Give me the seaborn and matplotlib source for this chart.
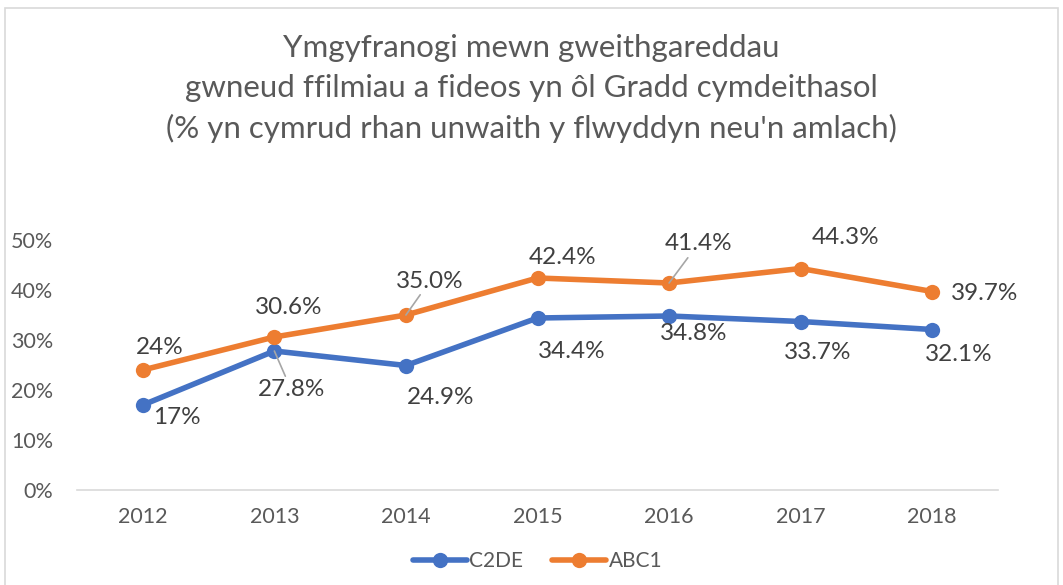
import matplotlib
matplotlib.use("Agg")
import matplotlib.pyplot as plt
import seaborn as sns
import pandas as pd
from matplotlib.patches import Rectangle

years = ["2012", "2013", "2014", "2015", "2016", "2017", "2018"]
c2de = [17.0, 27.8, 24.9, 34.4, 34.8, 33.7, 32.1]
abc1 = [24.0, 30.6, 35.0, 42.4, 41.4, 44.3, 39.7]
c2de_labels = ["17%", "27.8%", "24.9%", "34.4%", "34.8%", "33.7%", "32.1%"]
abc1_labels = ["24%", "30.6%", "35.0%", "42.4%", "41.4%", "44.3%", "39.7%"]
series_names = ["C2DE", "ABC1"]
y_ticks = [0, 10, 20, 30, 40, 50]

# label offsets in pixels (dx, dy up), and whether a leader line is drawn
c2de_off = [(34, -13), (17, -39), (35, -32), (34, -34), (25, -18), (17, -31), (27, -25)]
c2de_lead = [False, True, False, False, False, False, False]
abc1_off = [(17, 22), (14, 30), (24, 34), (25, 20), (29, 39), (45, 31), (52, -2)]
abc1_lead = [False, False, True, False, True, False, False]

sns.set_theme(style="white")
plt.rcParams['font.family'] = ['Lato', 'DejaVu Sans']

df = pd.DataFrame({
    "year": years * 2,
    "value": c2de + abc1,
    "series": [series_names[0]] * len(years) + [series_names[1]] * len(years),
})

colors = {"C2DE": "#4472C4", "ABC1": "#ED7D31"}

fig = plt.figure(figsize=(10.63, 5.85), dpi=100)
W, H = 1063, 585
ax = fig.add_axes([77 / W, (H - 490) / H, (998 - 77) / W, 250 / H])

sns.lineplot(data=df, x="year", y="value", hue="series", palette=colors,
             marker="o", markersize=11, markeredgewidth=0, linewidth=4,
             ax=ax, sort=False)

ax.set_xlim(-0.5, len(years) - 0.5)
ax.set_ylim(0, 50)
ax.set_yticks(y_ticks)
ax.set_yticklabels([f"{t}%" for t in y_ticks])
ax.set_xlabel("")
ax.set_ylabel("")
for s in ["top", "right", "left"]:
    ax.spines[s].set_visible(False)
ax.spines["bottom"].set_color("#d9d9d9")
ax.spines["bottom"].set_linewidth(1.2)
ax.tick_params(axis="both", length=0, labelsize=15.5, colors="#595959")
ax.tick_params(axis="x", pad=12)
ax.tick_params(axis="y", pad=17)
for lbl in ax.get_yticklabels():
    lbl.set_horizontalalignment("right")

def label_series(vals, labels, offs, leads):
    for i, (v, t, o, lead) in enumerate(zip(vals, labels, offs, leads)):
        kw = {}
        if lead:
            kw["arrowprops"] = dict(arrowstyle="-", color="#a6a6a6", lw=1.2,
                                    shrinkA=0, shrinkB=0)
        ax.annotate(t, xy=(i, v), xytext=(o[0] * 0.72, o[1] * 0.72),
                    textcoords="offset points", ha="center", va="center",
                    fontsize=17.5, color="#404040", annotation_clip=False, **kw)

label_series(c2de, c2de_labels, c2de_off, c2de_lead)
label_series(abc1, abc1_labels, abc1_off, abc1_lead)

ax.legend(loc="upper center", bbox_to_anchor=(0.5, -0.17), ncol=2,
          frameon=False, fontsize=15, labelcolor="#595959",
          handlelength=2.6, columnspacing=1.4, handletextpad=0.1)

title_lines = ["Ymgyfranogi mewn gweithgareddau",
               "gwneud ffilmiau a fideos yn ôl Gradd cymdeithasol",
               "(% yn cymrud rhan unwaith y flwyddyn neu'n amlach)"]
for k, line in enumerate(title_lines):
    fig.text(0.5, (H - 48 - 40 * k) / H, line, ha="center", va="center",
             fontsize=22.5, color="#595959")

fig.patches.append(Rectangle((5 / W, -0.05), (W - 10) / W, 1.05 - 8 / H,
                             transform=fig.transFigure, fill=False,
                             edgecolor="#d9d9d9", linewidth=1.2))

fig.savefig("out.png", dpi=100, facecolor="white")
